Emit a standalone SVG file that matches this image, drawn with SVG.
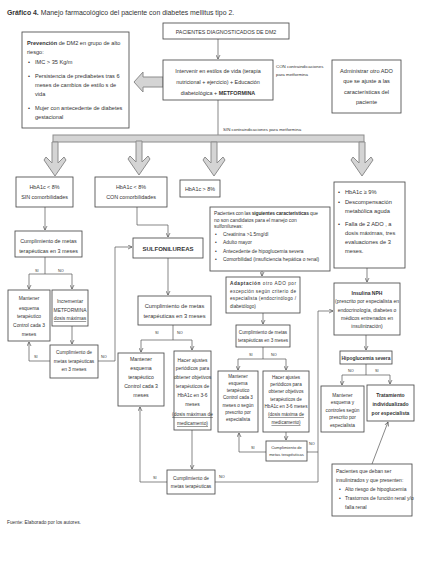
<svg xmlns="http://www.w3.org/2000/svg" width="423" height="576" viewBox="0 0 423 576">
<defs>
<style>
.box{fill:#fff;stroke:#4a4a4a;stroke-width:0.85}
.t{font-family:"Liberation Sans",Arial,sans-serif;fill:#333}
.c{text-anchor:middle}
.b{font-weight:bold}
.ln{fill:none;stroke:#555;stroke-width:0.7}
.ar{fill:none;stroke:#555;stroke-width:0.7;marker-end:url(#ah)}
.big{fill:#d4d4d4;stroke:#8c8c8c;stroke-width:1}
.lbl{font-family:"Liberation Sans",Arial,sans-serif;fill:#333;font-size:3.8px}
.u{text-decoration:underline}
</style>
<marker id="ah" viewBox="0 0 10 10" refX="9" refY="5" markerUnits="userSpaceOnUse" markerWidth="5" markerHeight="5" orient="auto">
<path d="M1,1 L9,5 L1,9" fill="none" stroke="#555" stroke-width="1.4"/>
</marker>
<path id="bigDown" d="M-3,0 L3,0 L3,21 L9,15 L11,18 L0,34 L-11,18 L-9,15 L-3,21 Z"/>
</defs>
<rect width="423" height="576" fill="#fff"/>
<text x="7" y="15" class="t" font-size="6.9"><tspan class="b">Gráfico 4.</tspan> Manejo farmacológico del paciente con diabetes mellitus tipo 2.</text>

<g id="connectors">
<line x1="218" y1="39" x2="218" y2="59" class="ar"/>
<line x1="218" y1="100" x2="218" y2="135" class="ln"/>
<polygon class="big" points="163,77 143,77 143,72 134,82 143,92 143,87 163,87"/>
<rect class="big" x="53" y="135" width="311" height="7"/>
<use href="#bigDown" class="big" transform="translate(55,142)"/>
<use href="#bigDown" class="big" transform="translate(139,141)"/>
<use href="#bigDown" class="big" transform="translate(214,142)"/>
<use href="#bigDown" class="big" transform="translate(362,142)"/>
<line x1="45" y1="207" x2="45" y2="230" class="ar"/>
<polyline points="45,257 45,274" class="ln"/>
<polyline points="29,274 72,274" class="ln"/>
<line x1="29" y1="274" x2="29" y2="289" class="ar"/>
<line x1="72" y1="274" x2="72" y2="289" class="ar"/>
<line x1="72" y1="326" x2="72" y2="344" class="ar"/>
<polyline points="50,361 29,361 29,342" class="ar"/>
<polyline points="98,361 115,361 115,247 132,247" class="ar"/>
<polyline points="137,207 137,225 168,225 168,237" class="ar"/>
<line x1="168" y1="258" x2="168" y2="295" class="ar"/>
<polyline points="173,325 173,340" class="ln"/>
<polyline points="141,340 192,340" class="ln"/>
<line x1="141" y1="340" x2="141" y2="352" class="ar"/>
<line x1="192" y1="340" x2="192" y2="350" class="ar"/>
<line x1="192" y1="430" x2="192" y2="469" class="ar"/>
<polyline points="167,482 140,482 140,407" class="ar"/>
<polyline points="215,482 318,482 318,452" class="ln"/>
<line x1="262" y1="271" x2="262" y2="276" class="ar"/>
<line x1="263" y1="313" x2="263" y2="324" class="ar"/>
<polyline points="263,347 263,359" class="ln"/>
<polyline points="238,359 286,359" class="ln"/>
<line x1="238" y1="359" x2="238" y2="370" class="ar"/>
<line x1="286" y1="359" x2="286" y2="370" class="ar"/>
<line x1="286" y1="432" x2="286" y2="440" class="ar"/>
<polyline points="266,452 239,452 239,433" class="ar"/>
<polyline points="307,452 318,452 318,311 333,311" class="ar"/>
<line x1="367" y1="268" x2="367" y2="282" class="ar"/>
<line x1="366" y1="335" x2="366" y2="350" class="ar"/>
<polyline points="366,364 366,375" class="ln"/>
<polyline points="342,375 390,375" class="ln"/>
<line x1="342" y1="375" x2="342" y2="385" class="ar"/>
<line x1="390" y1="375" x2="390" y2="384" class="ar"/>
<line x1="372" y1="464" x2="388" y2="422" class="ar"/>
<text x="276" y="68" class="t" font-size="4.4">CON contraindicaciones</text>
<text x="276" y="76" class="t" font-size="4.4">para metformina</text>
<text x="223" y="131" class="t" font-size="4.4">SIN contraindicaciones para metformina</text>
<text x="35" y="272" class="lbl">SI</text>
<text x="58" y="272" class="lbl">NO</text>
<text x="34" y="358" class="lbl">SI</text>
<text x="101" y="358" class="lbl">NO</text>
<text x="155" y="334" class="lbl">SI</text>
<text x="177" y="334" class="lbl">NO</text>
<text x="153" y="479" class="lbl">SI</text>
<text x="219" y="478" class="lbl">NO</text>
<text x="249" y="356" class="lbl">SI</text>
<text x="271" y="356" class="lbl">NO</text>
<text x="251" y="449" class="lbl">SI</text>
<text x="309" y="445" class="lbl">NO</text>
<text x="348" y="372" class="lbl">NO</text>
<text x="375" y="372" class="lbl">SI</text>
</g>

<g id="prevencion">
<rect class="box" x="22" y="32" width="107" height="96"/>
<text class="t" font-size="5.6"><tspan x="27" y="45"><tspan class="b">Prevención</tspan> de DM2 en grupo de alto</tspan><tspan x="27" y="54">riesgo:</tspan>
<tspan x="28" y="64">•</tspan><tspan x="35" y="64">IMC &gt; 35 Kg/m</tspan>
<tspan x="28" y="78">•</tspan><tspan x="35" y="78">Persistencia de prediabetes  tras 6</tspan>
<tspan x="35" y="87">meses de cambios de estilo s de</tspan>
<tspan x="35" y="96">vida</tspan>
<tspan x="28" y="110">•</tspan><tspan x="35" y="110">Mujer con antecedente de diabetes</tspan>
<tspan x="35" y="119">gestacional</tspan></text>
</g>

<g id="pacientes">
<rect class="box" x="163" y="23" width="126" height="16"/>
<text x="226" y="33.5" class="t c" font-size="5.3">PACIENTES DIAGNOSTICADOS DE DM2</text>
</g>

<g id="intervenir">
<rect class="box" x="163" y="60" width="110" height="40"/>
<text class="t c" font-size="5.4"><tspan x="218" y="73">Intervenir en estilos de vida (terapia</tspan><tspan x="218" y="84">nutricional + ejercicio) + Educación</tspan><tspan x="218" y="95">diabetológica + <tspan class="b">METFORMINA</tspan></tspan></text>
</g>

<g id="administrar">
<rect class="box" x="332" y="60" width="69" height="53"/>
<text class="t c" font-size="5.6"><tspan x="366.5" y="73">Administrar otro ADO</tspan><tspan x="366.5" y="83">que se ajuste a las</tspan><tspan x="366.5" y="94">características del</tspan><tspan x="366.5" y="104">paciente</tspan></text>
</g>

<g id="hba1c-sin">
<rect class="box" x="16" y="177" width="57" height="30"/>
<text class="t c" font-size="5.4"><tspan x="44.5" y="189">HbA1c &lt; 8%</tspan><tspan x="44.5" y="199">SIN comorbilidades</tspan></text>
</g>

<g id="hba1c-con">
<rect class="box" x="95" y="177" width="72" height="30"/>
<text class="t c" font-size="5.4"><tspan x="131" y="189">HbA1c &lt; 8%</tspan><tspan x="131" y="199">CON comorbilidades</tspan></text>
</g>

<g id="hba1c-mayor8">
<rect class="box" x="180" y="180" width="40" height="17"/>
<text x="200" y="191" class="t c" font-size="5.4">HbA1c &gt; 8%</text>
</g>

<g id="hba1c-9">
<rect class="box" x="334" y="182" width="71" height="86"/>
<text class="t" font-size="5.7"><tspan x="338" y="194">•</tspan><tspan x="345" y="194">HbA1c ≥ 9%</tspan>
<tspan x="338" y="204">•</tspan><tspan x="345" y="204">Descompensación</tspan>
<tspan x="345" y="213">metabólica aguda</tspan>
<tspan x="338" y="226">•</tspan><tspan x="345" y="226">Falla de 2 ADO , a</tspan>
<tspan x="345" y="235">dosis máximas,  tres</tspan>
<tspan x="345" y="244">evaluaciones de 3</tspan>
<tspan x="345" y="253">meses.</tspan></text>
</g>

<g id="no-candidatos">
<rect class="box" x="210" y="207" width="120" height="64"/>
<text class="t" font-size="4.9"><tspan x="214" y="215" textLength="104" lengthAdjust="spacing">Pacientes con las <tspan class="b">siguientes características</tspan> que</tspan>
<tspan x="214" y="221.5">no son candidatos para el manejo con</tspan>
<tspan x="214" y="228">sulfonilureas:</tspan>
<tspan x="215" y="236">•</tspan><tspan x="223" y="236">Creatinina &gt;1.5mg/dl</tspan>
<tspan x="215" y="244">•</tspan><tspan x="223" y="244">Adulto mayor</tspan>
<tspan x="215" y="252.5">•</tspan><tspan x="223" y="252.5">Antecedente de hipoglucemia severa</tspan>
<tspan x="215" y="261">•</tspan><tspan x="223" y="261">Comorbilidad (insuficiencia hepática o renal)</tspan></text>
</g>

<g id="cumpl-1">
<rect class="box" x="15" y="231" width="67" height="26"/>
<text class="t c" font-size="5.4"><tspan x="48.5" y="243">Cumplimiento de metas</tspan><tspan x="48.5" y="253">terapéuticas  en 3 meses</tspan></text>
</g>

<g id="mantener-1">
<rect class="box" x="8" y="290" width="42" height="51"/>
<text class="t c" font-size="4.9"><tspan x="29" y="300">Mantener</tspan><tspan x="29" y="310">esquema</tspan><tspan x="29" y="318">terapéutico</tspan><tspan x="29" y="327">Control  cada 3</tspan><tspan x="29" y="336">meses</tspan></text>
</g>

<g id="incrementar">
<rect class="box" x="52" y="290" width="36" height="36"/>
<text class="t c" font-size="4.9"><tspan x="70" y="303">Incrementar</tspan><tspan x="70" y="312">METFORMINA</tspan><tspan x="70" y="320" class="u">dosis máximas</tspan></text>
</g>

<g id="cumpl-2">
<rect class="box" x="50" y="345" width="48" height="33"/>
<text class="t c" font-size="4.8"><tspan x="74" y="354">Cumplimiento de</tspan><tspan x="74" y="363">metas terapéuticas</tspan><tspan x="74" y="371">en 3 meses</tspan></text>
</g>

<g id="sulfonilureas">
<rect class="box" x="133" y="238" width="70" height="20"/>
<text x="168" y="250.5" class="t c b" font-size="6">SULFONILUREAS</text>
</g>

<g id="cumpl-3">
<rect class="box" x="138" y="296" width="73" height="29"/>
<text class="t c" font-size="5.7"><tspan x="174.5" y="308">Cumplimiento  de metas</tspan><tspan x="174.5" y="318">terapéuticas  en 3 meses</tspan></text>
</g>

<g id="mantener-2">
<rect class="box" x="118" y="353" width="46" height="53"/>
<text class="t c" font-size="5.2"><tspan x="141" y="361">Mantener</tspan><tspan x="141" y="370">esquema</tspan><tspan x="141" y="379">terapéutico</tspan><tspan x="141" y="388">Control  cada 3</tspan><tspan x="141" y="397">meses</tspan></text>
</g>

<g id="ajustes-2">
<rect class="box" x="174" y="351" width="37" height="79"/>
<text class="t c" font-size="4.9"><tspan x="192.5" y="362">Hacer ajustes</tspan><tspan x="192.5" y="370">periódicos  para</tspan><tspan x="192.5" y="379">obtener  objetivos</tspan><tspan x="192.5" y="388">terapéuticos  de</tspan><tspan x="192.5" y="397">HbA1c en 3-6</tspan><tspan x="192.5" y="406">meses</tspan><tspan x="192.5" y="416" class="u">(dosis máximas de</tspan><tspan x="192.5" y="425" class="u">medicamento)</tspan></text>
</g>

<g id="cumpl-bottom">
<rect class="box" x="167" y="470" width="48" height="24"/>
<text class="t c" font-size="4.8"><tspan x="191" y="479.5">Cumplimiento de</tspan><tspan x="191" y="488">metas terapéuticas</tspan></text>
</g>

<g id="adaptacion">
<rect class="box" x="226" y="277" width="74" height="36"/>
<text class="t" font-size="4.7"><tspan x="230" y="285" textLength="66" lengthAdjust="spacing"><tspan class="b">Adaptación</tspan> otro ADO por</tspan>
<tspan x="230" y="292.5" textLength="66" lengthAdjust="spacing">excepción según criterio de</tspan>
<tspan x="230" y="300" textLength="66" lengthAdjust="spacing">especialista (endocrinólogo /</tspan>
<tspan x="230" y="307.5">diabetólogo)</tspan></text>
</g>

<g id="cumpl-4">
<rect class="box" x="236" y="325" width="54" height="22"/>
<text class="t c" font-size="4.6"><tspan x="263" y="333.5">Cumplimiento de metas</tspan><tspan x="263" y="342">terapéuticas  en 3 meses</tspan></text>
</g>

<g id="mantener-3">
<rect class="box" x="218" y="371" width="40" height="61"/>
<text class="t c" font-size="4.6"><tspan x="238" y="378">Mantener</tspan><tspan x="238" y="385">esquema</tspan><tspan x="238" y="392">terapéutico</tspan><tspan x="238" y="399">Control  cada 3</tspan><tspan x="238" y="407">meses o según</tspan><tspan x="238" y="414">prescrito por</tspan><tspan x="238" y="421">especialista</tspan></text>
</g>

<g id="ajustes-3">
<rect class="box" x="263" y="371" width="46" height="61"/>
<text class="t c" font-size="4.6"><tspan x="286" y="379">Hacer ajustes</tspan><tspan x="286" y="386">periódicos para</tspan><tspan x="286" y="393">obtener objetivos</tspan><tspan x="286" y="401">terapéuticos de</tspan><tspan x="286" y="408">HbA1c en 3-6 meses</tspan><tspan x="286" y="416" class="u">(dosis máxima de</tspan><tspan x="286" y="424" class="u">medicamento)</tspan></text>
</g>

<g id="cumpl-5">
<rect class="box" x="266" y="441" width="41" height="20"/>
<text class="t c" font-size="4.1"><tspan x="286.5" y="449">Cumplimiento de</tspan><tspan x="286.5" y="456">metas terapéuticas</tspan></text>
</g>

<g id="insulina">
<rect class="box" x="334" y="283" width="66" height="52"/>
<text class="t c" font-size="5"><tspan x="367" y="295" class="b">Insulina NPH</tspan><tspan x="367" y="303">(prescrito por especialista en</tspan><tspan x="367" y="312">endocrinología,  diabetes o</tspan><tspan x="367" y="320">médicos entrenados  en</tspan><tspan x="367" y="328">insulinización)</tspan></text>
</g>

<g id="hipoglucemia">
<rect class="box" x="340" y="351" width="52" height="13"/>
<text x="366" y="359.5" class="t c b" font-size="4.9">Hipoglucemia severa</text>
</g>

<g id="mantener-4">
<rect class="box" x="321" y="386" width="43" height="46"/>
<text class="t c" font-size="4.8"><tspan x="342.5" y="397">Mantener</tspan><tspan x="342.5" y="404">esquema y</tspan><tspan x="342.5" y="412">controles según</tspan><tspan x="342.5" y="419">prescrito por</tspan><tspan x="342.5" y="427">especialista</tspan></text>
</g>

<g id="tratamiento">
<rect class="box" x="367" y="385" width="47" height="36"/>
<text class="t c b" font-size="5"><tspan x="390.5" y="397">Tratamiento</tspan><tspan x="390.5" y="406">individualizado</tspan><tspan x="390.5" y="415">por especialista</tspan></text>
</g>

<g id="insulinizados">
<rect class="box" x="332" y="464" width="80" height="52"/>
<text class="t" font-size="5"><tspan x="336" y="473">Pacientes que deban ser</tspan><tspan x="336" y="482">insulinizados y que presenten:</tspan>
<tspan x="339" y="491">•</tspan><tspan x="345" y="491">Alto riesgo de hipoglucemia</tspan>
<tspan x="339" y="500">•</tspan><tspan x="345" y="500">Trastornos de función renal y/o</tspan>
<tspan x="345" y="509">falla renal</tspan></text>
</g>

<text x="7" y="524" class="t" font-size="4.8">Fuente: Elaborado por los autores.</text>
</svg>
